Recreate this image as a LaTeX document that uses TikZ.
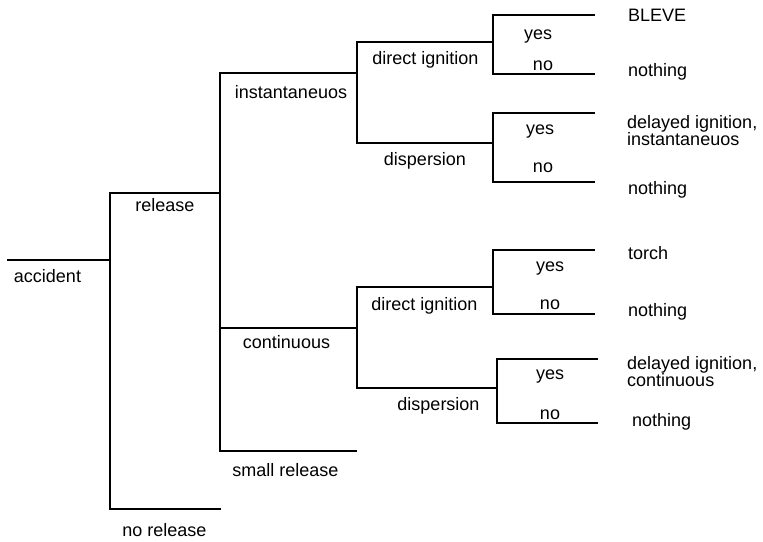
\documentclass[tikz,border=0pt]{standalone}
\usepackage{fontspec}
\setmainfont{Liberation Sans}
\begin{document}
\begin{tikzpicture}[x=1pt,y=-1pt,
  branch/.style={line width=1.8pt},
  lbl/.style={font=\fontsize{18}{17}\selectfont, inner sep=0pt, anchor=base},
  outcome/.style={font=\fontsize{18}{17}\selectfont, inner sep=0pt, anchor=west, align=left}]
\useasboundingbox (0,0) rectangle (763,541);

% ---- level 0: accident ----
\coordinate (acc0) at (7,260);
\coordinate (acc1) at (110,260);
\draw[branch] (acc0) -- (acc1);
\node[lbl] (accident) at (47.5,282) {accident};

% ---- level 1: release / no release ----
\coordinate (rel1) at (220,193);
\coordinate (norel) at (221,509);
\draw[branch] (rel1) -| (acc1) |- (norel);
\node[lbl] (release) at (165,211) {release};
\node[lbl] (norelease) at (164.5,536) {no release};

% ---- level 2: instantaneous / continuous / small release ----
\coordinate (inst1) at (357,73);
\coordinate (cont0) at (220,328);
\coordinate (cont1) at (357,328);
\coordinate (small) at (357,451);
\draw[branch] (inst1) -| (rel1) |- (small);
\draw[branch] (cont0) -- (cont1);
\node[lbl] (instantaneuos) at (291,98) {instantaneuos};
\node[lbl] (continuous) at (286.5,348) {continuous};
\node[lbl] (smallrelease) at (285.5,476) {small release};

% ---- level 3: ignition / dispersion (instantaneous) ----
\coordinate (di1) at (493,42);
\coordinate (dp1) at (493,143);
\draw[branch] (di1) -| (inst1) |- (dp1);
\node[lbl] (dign1) at (425.5,64) {direct ignition};
\node[lbl] (disp1) at (425,165) {dispersion};

% ---- level 3: ignition / dispersion (continuous) ----
\coordinate (di2) at (493,287);
\coordinate (dp2) at (497,388);
\draw[branch] (di2) -| (cont1) |- (dp2);
\node[lbl] (dign2) at (424.5,310) {direct ignition};
\node[lbl] (disp2) at (438.5,410) {dispersion};

% ---- level 4: yes / no branches ----
\coordinate (y1) at (595,15);   \coordinate (n1) at (595,74);
\coordinate (y2) at (595,113);  \coordinate (n2) at (595,182);
\coordinate (y3) at (595,250);  \coordinate (n3) at (595,314);
\coordinate (y4) at (598,359);  \coordinate (n4) at (598,423);
\draw[branch] (y1) -| (di1) |- (n1);
\draw[branch] (y2) -| (dp1) |- (n2);
\draw[branch] (y3) -| (di2) |- (n3);
\draw[branch] (y4) -| (dp2) |- (n4);

\node[lbl] (yes1) at (538,39) {yes};
\node[lbl] (no1)  at (543,70) {no};
\node[lbl] (yes2) at (540,134) {yes};
\node[lbl] (no2)  at (543,172) {no};
\node[lbl] (yes3) at (550,271) {yes};
\node[lbl] (no3)  at (550,309) {no};
\node[lbl] (yes4) at (550,379) {yes};
\node[lbl] (no4)  at (550,419) {no};

% ---- outcomes ----
\node[outcome] (bleve)  at (628,15) {BLEVE};
\node[outcome] (noth1)  at (628,72) {nothing};
\node[outcome] (delinst) at (627,131) {delayed ignition,\\instantaneuos};
\node[outcome] (noth2)  at (628,190) {nothing};
\node[outcome] (torch)  at (628,253) {torch};
\node[outcome] (noth3)  at (628,312) {nothing};
\node[outcome] (delcont) at (627,372) {delayed ignition,\\continuous};
\node[outcome] (noth4)  at (632,422) {nothing};
\end{tikzpicture}
\end{document}
